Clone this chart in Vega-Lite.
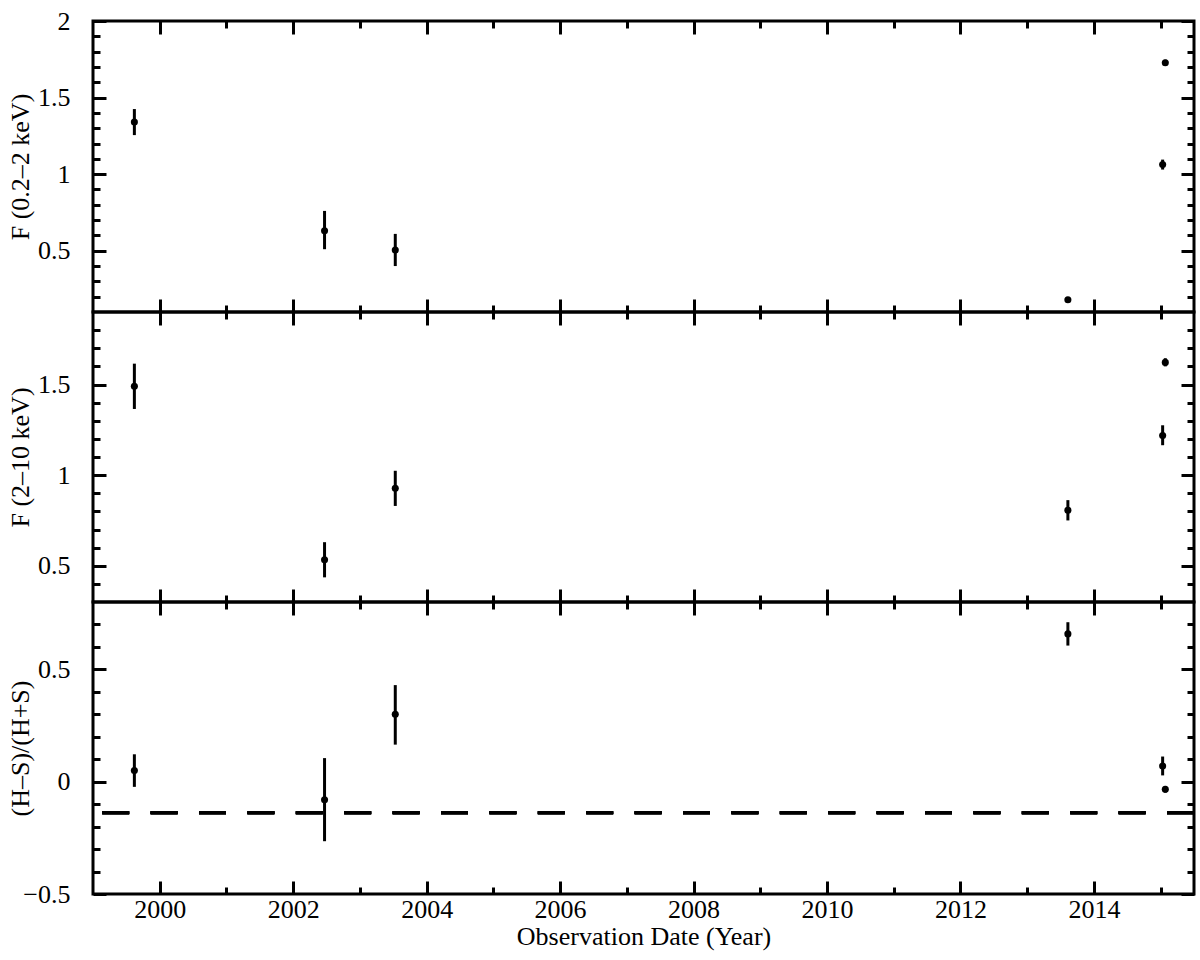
{
  "$schema": "https://vega.github.io/schema/vega-lite/v6.json",
  "background": "white",
  "padding": {"left": 5, "top": 6, "right": 0, "bottom": 0},
  "spacing": 0,
  "bounds": "flush",
  "config": {
    "view": {"stroke": "black", "strokeWidth": 3},
    "font": "Liberation Serif",
    "style": {"guide-label": {"font": "Liberation Serif", "fontSize": 26, "fill": "black"}, "guide-title": {"font": "Liberation Serif", "fontSize": 26, "fontWeight": "normal", "fill": "black"}},
    "axis": {
      "domain": false,
      "grid": false,
      "tickColor": "black",
      "tickWidth": 3,
      "labelFont": "Liberation Serif",
      "labelFontSize": 26,
      "labelColor": "black",
      "labelFlush": false,
      "labelOverlap": false,
      "titleFont": "Liberation Serif",
      "titleFontSize": 26,
      "titleFontWeight": "normal",
      "titleColor": "black"
    }
  },
  "datasets": {
    "obs": [
      {"date": 1999.62, "soft": 1.34, "soft_lo": 1.255, "soft_hi": 1.425, "hard": 1.49, "hard_lo": 1.365, "hard_hi": 1.615, "hr": 0.05, "hr_lo": -0.023, "hr_hi": 0.122},
      {"date": 2002.47, "soft": 0.63, "soft_lo": 0.51, "soft_hi": 0.76, "hard": 0.533, "hard_lo": 0.436, "hard_hi": 0.63, "hr": -0.08, "hr_lo": -0.265, "hr_hi": 0.105},
      {"date": 2003.53, "soft": 0.505, "soft_lo": 0.4, "soft_hi": 0.61, "hard": 0.928, "hard_lo": 0.83, "hard_hi": 1.024, "hr": 0.3, "hr_lo": 0.165, "hr_hi": 0.43},
      {"date": 2013.61, "soft": 0.18, "soft_lo": 0.165, "soft_hi": 0.195, "hard": 0.806, "hard_lo": 0.75, "hard_hi": 0.862, "hr": 0.658, "hr_lo": 0.606, "hr_hi": 0.71},
      {"date": 2015.03, "soft": 1.063, "soft_lo": 1.03, "soft_hi": 1.095, "hard": 1.219, "hard_lo": 1.165, "hard_hi": 1.275, "hr": 0.07, "hr_lo": 0.028, "hr_hi": 0.112},
      {"date": 2015.07, "soft": 1.727, "soft_lo": 1.707, "soft_hi": 1.747, "hard": 1.622, "hard_lo": 1.6, "hard_hi": 1.645, "hr": -0.034, "hr_lo": -0.049, "hr_hi": -0.019}
    ]
  },
  "vconcat": [
    {
      "width": 1101,
      "height": 291,
      "data": {"name": "obs"},
      "resolve": {"axis": {"x": "independent", "y": "independent"}},
      "layer": [
        {
          "mark": {"type": "rule", "color": "black", "strokeWidth": 3},
          "encoding": {
            "x": {"field": "date", "type": "quantitative", "scale": {"domain": [1999, 2015.5], "nice": false, "zero": false},
                  "axis": {"orient": "bottom", "values": [2000, 2002, 2004, 2006, 2008, 2010, 2012, 2014], "tickSize": -13, "labels": false, "title": null}},
            "y": {"field": "soft_lo", "type": "quantitative", "scale": {"domain": [0.1, 2], "nice": false, "zero": false},
                  "axis": {"orient": "left", "values": [0.5, 1, 1.5, 2], "tickSize": -13, "labelPadding": 36, "format": "~g", "labelFont": "Liberation Serif", "labelFontSize": 26, "labelColor": "black", "title": "F (0.2–2 keV)", "titleFont": "Liberation Serif", "titleFontSize": 26, "titleX": -60}},
            "y2": {"field": "soft_hi"}
          }
        },
        {
          "mark": {"type": "point", "filled": true, "color": "black", "opacity": 1, "size": 50},
          "encoding": {
            "x": {"field": "date", "type": "quantitative", "scale": {"domain": [1999, 2015.5], "nice": false, "zero": false},
                  "axis": {"orient": "bottom", "values": [2001, 2003, 2005, 2007, 2009, 2011, 2013, 2015], "tickSize": -7, "labels": false, "title": null}},
            "y": {"field": "soft", "type": "quantitative", "scale": {"domain": [0.1, 2], "nice": false, "zero": false},
                  "axis": {"orient": "left", "values": [0.2, 0.3, 0.4, 0.6, 0.7, 0.8, 0.9, 1.1, 1.2, 1.3, 1.4, 1.6, 1.7, 1.8, 1.9], "tickSize": -7, "labels": false, "title": null}}
          }
        },
        {
          "mark": {"type": "point", "filled": true, "opacity": 0},
          "encoding": {
            "x": {"field": "date", "type": "quantitative", "scale": {"domain": [1999, 2015.5], "nice": false, "zero": false},
                  "axis": {"orient": "top", "values": [2000, 2002, 2004, 2006, 2008, 2010, 2012, 2014], "tickSize": -13, "labels": false, "title": null}},
            "y": {"field": "soft", "type": "quantitative", "scale": {"domain": [0.1, 2], "nice": false, "zero": false},
                  "axis": {"orient": "right", "values": [0.5, 1, 1.5, 2], "tickSize": -13, "labels": false, "title": null}}
          }
        },
        {
          "mark": {"type": "point", "filled": true, "opacity": 0},
          "encoding": {
            "x": {"field": "date", "type": "quantitative", "scale": {"domain": [1999, 2015.5], "nice": false, "zero": false},
                  "axis": {"orient": "top", "values": [2001, 2003, 2005, 2007, 2009, 2011, 2013, 2015], "tickSize": -7, "labels": false, "title": null}},
            "y": {"field": "soft", "type": "quantitative", "scale": {"domain": [0.1, 2], "nice": false, "zero": false},
                  "axis": {"orient": "right", "values": [0.2, 0.3, 0.4, 0.6, 0.7, 0.8, 0.9, 1.1, 1.2, 1.3, 1.4, 1.6, 1.7, 1.8, 1.9], "tickSize": -7, "labels": false, "title": null}}
          }
        }
      ]
    },
    {
      "width": 1101,
      "height": 290,
      "data": {"name": "obs"},
      "resolve": {"axis": {"x": "independent", "y": "independent"}},
      "layer": [
        {
          "mark": {"type": "rule", "color": "black", "strokeWidth": 3},
          "encoding": {
            "x": {"field": "date", "type": "quantitative", "scale": {"domain": [1999, 2015.5], "nice": false, "zero": false},
                  "axis": {"orient": "bottom", "values": [2000, 2002, 2004, 2006, 2008, 2010, 2012, 2014], "tickSize": -13, "labels": false, "title": null}},
            "y": {"field": "hard_lo", "type": "quantitative", "scale": {"domain": [0.3, 1.9], "nice": false, "zero": false},
                  "axis": {"orient": "left", "values": [0.5, 1, 1.5], "tickSize": -13, "labelPadding": 36, "format": "~g", "labelFont": "Liberation Serif", "labelFontSize": 26, "labelColor": "black", "title": "F (2–10 keV)", "titleFont": "Liberation Serif", "titleFontSize": 26, "titleX": -60}},
            "y2": {"field": "hard_hi"}
          }
        },
        {
          "mark": {"type": "point", "filled": true, "color": "black", "opacity": 1, "size": 50},
          "encoding": {
            "x": {"field": "date", "type": "quantitative", "scale": {"domain": [1999, 2015.5], "nice": false, "zero": false},
                  "axis": {"orient": "bottom", "values": [2001, 2003, 2005, 2007, 2009, 2011, 2013, 2015], "tickSize": -7, "labels": false, "title": null}},
            "y": {"field": "hard", "type": "quantitative", "scale": {"domain": [0.3, 1.9], "nice": false, "zero": false},
                  "axis": {"orient": "left", "values": [0.4, 0.6, 0.7, 0.8, 0.9, 1.1, 1.2, 1.3, 1.4, 1.6, 1.7, 1.8], "tickSize": -7, "labels": false, "title": null}}
          }
        },
        {
          "mark": {"type": "point", "filled": true, "opacity": 0},
          "encoding": {
            "x": {"field": "date", "type": "quantitative", "scale": {"domain": [1999, 2015.5], "nice": false, "zero": false},
                  "axis": {"orient": "top", "values": [2000, 2002, 2004, 2006, 2008, 2010, 2012, 2014], "tickSize": -13, "labels": false, "title": null}},
            "y": {"field": "hard", "type": "quantitative", "scale": {"domain": [0.3, 1.9], "nice": false, "zero": false},
                  "axis": {"orient": "right", "values": [0.5, 1, 1.5], "tickSize": -13, "labels": false, "title": null}}
          }
        },
        {
          "mark": {"type": "point", "filled": true, "opacity": 0},
          "encoding": {
            "x": {"field": "date", "type": "quantitative", "scale": {"domain": [1999, 2015.5], "nice": false, "zero": false},
                  "axis": {"orient": "top", "values": [2001, 2003, 2005, 2007, 2009, 2011, 2013, 2015], "tickSize": -7, "labels": false, "title": null}},
            "y": {"field": "hard", "type": "quantitative", "scale": {"domain": [0.3, 1.9], "nice": false, "zero": false},
                  "axis": {"orient": "right", "values": [0.4, 0.6, 0.7, 0.8, 0.9, 1.1, 1.2, 1.3, 1.4, 1.6, 1.7, 1.8], "tickSize": -7, "labels": false, "title": null}}
          }
        }
      ]
    },
    {
      "width": 1101,
      "height": 292,
      "data": {"name": "obs"},
      "resolve": {"axis": {"x": "independent", "y": "independent"}},
      "layer": [
        {
          "mark": {"type": "rule", "color": "black", "strokeWidth": 3},
          "encoding": {
            "x": {"field": "date", "type": "quantitative", "scale": {"domain": [1999, 2015.5], "nice": false, "zero": false},
                  "axis": {"orient": "bottom", "values": [2000, 2002, 2004, 2006, 2008, 2010, 2012, 2014], "tickSize": -13, "labelPadding": 15, "format": "d", "labelFont": "Liberation Serif", "labelFontSize": 26, "labelColor": "black", "title": "Observation Date (Year)", "titleFont": "Liberation Serif", "titleFontSize": 26, "titleY": 29}},
            "y": {"field": "hr_lo", "type": "quantitative", "scale": {"domain": [-0.5, 0.8], "nice": false, "zero": false},
                  "axis": {"orient": "left", "values": [-0.5, 0, 0.5], "tickSize": -13, "labelPadding": 36, "format": "~g", "labelFont": "Liberation Serif", "labelFontSize": 26, "labelColor": "black", "title": "(H–S)/(H+S)", "titleFont": "Liberation Serif", "titleFontSize": 26, "titleX": -60}},
            "y2": {"field": "hr_hi"}
          }
        },
        {
          "mark": {"type": "point", "filled": true, "color": "black", "opacity": 1, "size": 50},
          "encoding": {
            "x": {"field": "date", "type": "quantitative", "scale": {"domain": [1999, 2015.5], "nice": false, "zero": false},
                  "axis": {"orient": "bottom", "values": [2001, 2003, 2005, 2007, 2009, 2011, 2013, 2015], "tickSize": -7, "labels": false, "title": null}},
            "y": {"field": "hr", "type": "quantitative", "scale": {"domain": [-0.5, 0.8], "nice": false, "zero": false},
                  "axis": {"orient": "left", "values": [-0.4, -0.3, -0.2, -0.1, 0.1, 0.2, 0.3, 0.4, 0.6, 0.7], "tickSize": -7, "labels": false, "title": null}}
          }
        },
        {
          "mark": {"type": "point", "filled": true, "opacity": 0},
          "encoding": {
            "x": {"field": "date", "type": "quantitative", "scale": {"domain": [1999, 2015.5], "nice": false, "zero": false},
                  "axis": {"orient": "top", "values": [2000, 2002, 2004, 2006, 2008, 2010, 2012, 2014], "tickSize": -13, "labels": false, "title": null}},
            "y": {"field": "hr", "type": "quantitative", "scale": {"domain": [-0.5, 0.8], "nice": false, "zero": false},
                  "axis": {"orient": "right", "values": [-0.5, 0, 0.5], "tickSize": -13, "labels": false, "title": null}}
          }
        },
        {
          "mark": {"type": "point", "filled": true, "opacity": 0},
          "encoding": {
            "x": {"field": "date", "type": "quantitative", "scale": {"domain": [1999, 2015.5], "nice": false, "zero": false},
                  "axis": {"orient": "top", "values": [2001, 2003, 2005, 2007, 2009, 2011, 2013, 2015], "tickSize": -7, "labels": false, "title": null}},
            "y": {"field": "hr", "type": "quantitative", "scale": {"domain": [-0.5, 0.8], "nice": false, "zero": false},
                  "axis": {"orient": "right", "values": [-0.4, -0.3, -0.2, -0.1, 0.1, 0.2, 0.3, 0.4, 0.6, 0.7], "tickSize": -7, "labels": false, "title": null}}
          }
        },
        {
          "mark": {"type": "rule", "color": "black", "strokeWidth": 3, "strokeDash": [27, 21.4]},
          "encoding": {
            "y": {"datum": -0.138, "type": "quantitative", "scale": {"domain": [-0.5, 0.8], "nice": false, "zero": false}, "axis": null}
          }
        }
      ]
    }
  ]
}
